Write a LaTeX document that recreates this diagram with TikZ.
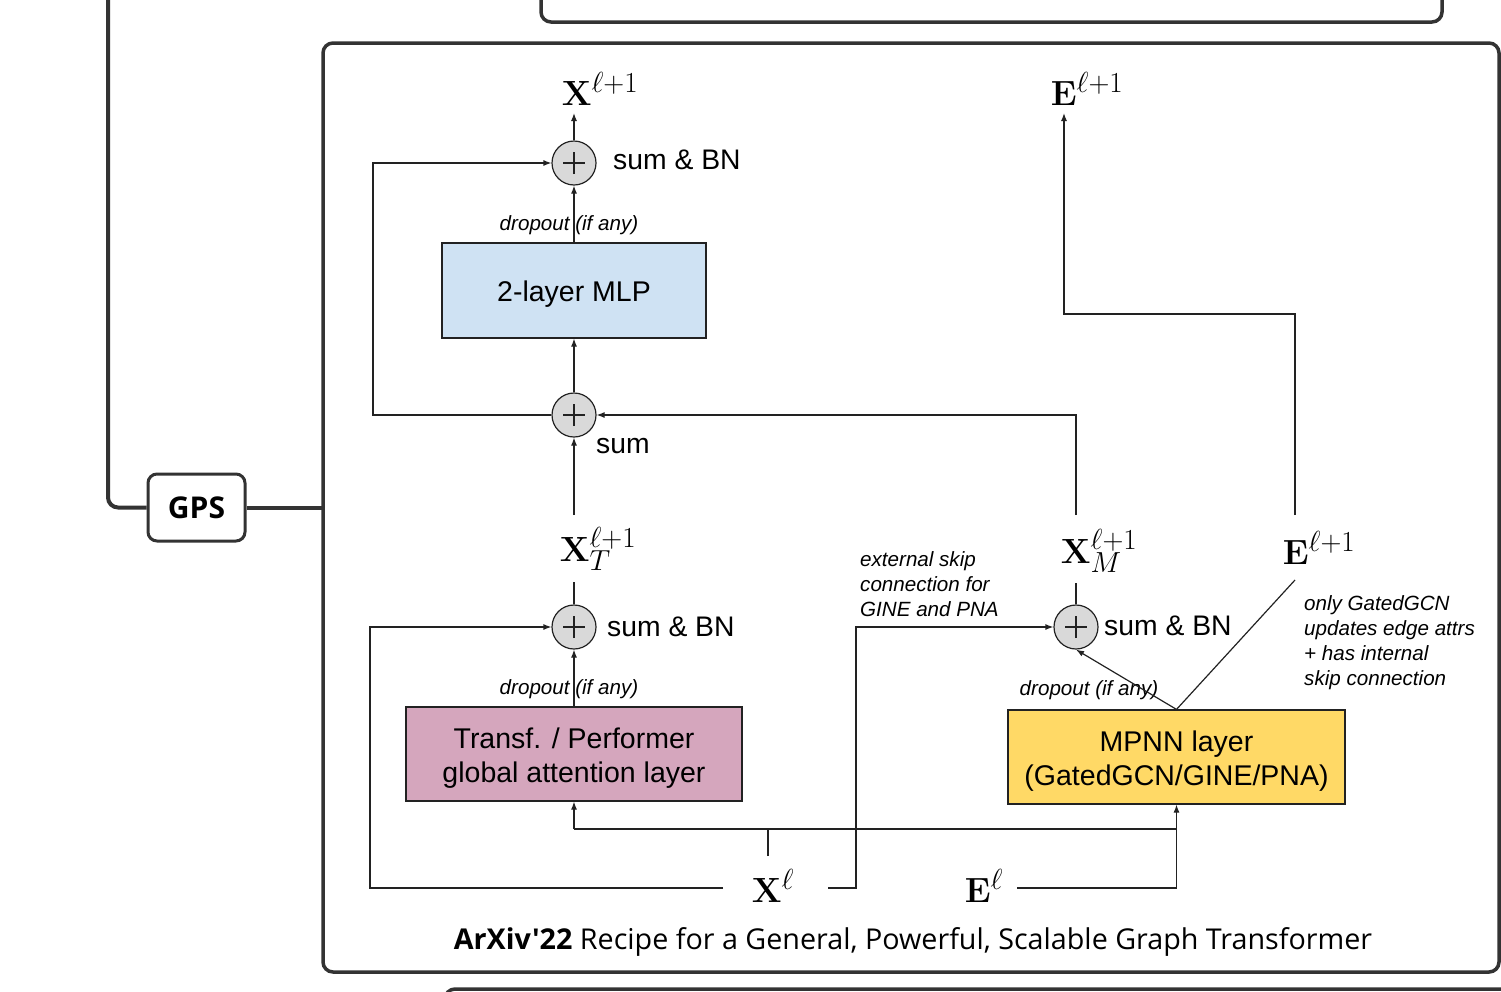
\RequirePackage{fix-cm}
\documentclass[tikz,border=0pt]{standalone}
\usepackage[no-math]{fontspec}
\setmainfont{Liberation Sans}
\newfontfamily\mapfont{Open Sans}[Ligatures=TeXOff]
\usetikzlibrary{arrows.meta}
\DeclareMathSizes{35}{35}{29}{21}
\definecolor{framegray}{HTML}{333333}
\definecolor{linegray}{HTML}{222222}
\definecolor{plusgray}{HTML}{D9D9D9}
\definecolor{mlpblue}{HTML}{CFE2F3}
\definecolor{transpink}{HTML}{D5A6BD}
\definecolor{mpnnyellow}{HTML}{FFD966}
\newcommand{\boxtext}[1]{\raisebox{-4.5pt}[\height][\depth]{\begin{tabular}{@{}c@{}}#1\end{tabular}}}
\tikzset{
  ln/.style={draw=linegray, line width=1.2pt},
  arr/.style={ln, -{Latex[length=8pt,width=6pt]}},
  plusnode/.style={circle, draw=linegray, line width=1.2pt, fill=plusgray,
    minimum size=44pt, inner sep=0pt,
    path picture={\draw[linegray, line width=1.1pt]
      ([xshift=-11pt]path picture bounding box.center) -- ([xshift=11pt]path picture bounding box.center)
      ([yshift=-11pt]path picture bounding box.center) -- ([yshift=11pt]path picture bounding box.center);}},
  layerbox/.style={draw=linegray, line width=1.2pt, inner sep=0pt, align=center,
    font=\fontsize{28.5}{34}\selectfont},
  lbl/.style={font=\fontsize{28.3}{34}\selectfont, inner sep=0pt},
  note/.style={font=\itshape\fontsize{20.6}{25}\selectfont, inner sep=0pt, align=left},
  mathlbl/.style={font=\fontsize{35}{40}\selectfont, inner sep=0pt},
  frame/.style={draw=framegray, line width=3.5pt, rounded corners=10pt},
  mapline/.style={draw=framegray, line width=4pt, rounded corners=10pt},
}
\begin{document}
\begin{tikzpicture}[x=1pt, y=-1pt]
\useasboundingbox (0,0) rectangle (1501,991);

% mind-map frames
\draw[frame] (541,-30) rectangle (1442,22);
\draw[frame] (445,989) rectangle (1530,1100);
\draw[frame] (323,43) rectangle (1499,972);
\node[draw=framegray, line width=3pt, rounded corners=9pt, minimum width=97pt, minimum height=67pt,
  inner sep=0pt, font=\mapfont\bfseries\fontsize{30}{34}\selectfont] (gps) at (196.5,507.5) {GPS};
\coordinate (maptop) at (108,-10);
\draw[mapline] (maptop) |- (gps.west);
\draw[mapline] (gps.east) -- (323,507.5);

% boxes
\node[layerbox, fill=mlpblue, minimum width=264pt, minimum height=95pt] (mlp) at (574,290.5) {\boxtext{2-layer MLP}};
\node[layerbox, fill=transpink, minimum width=336pt, minimum height=94pt] (transf) at (574,754) {\boxtext{Transf. / Performer\\global attention layer}};
\node[layerbox, fill=mpnnyellow, minimum width=337pt, minimum height=94pt] (mpnn) at (1176.5,757) {\boxtext{MPNN layer\\(GatedGCN/GINE/PNA)}};

% sum nodes
\node[plusnode] (plusTop) at (574,163) {};
\node[plusnode] (plusMid) at (574,415) {};
\node[plusnode] (plusT) at (574,627) {};
\node[plusnode] (plusM) at (1076,627) {};

% labels
\node[lbl, anchor=west] (lTop) at (613,160) {sum \& BN};
\node[lbl, anchor=west] (lMid) at (596,446) {sum};
\node[lbl, anchor=west] (lT) at (607,627) {sum \& BN};
\node[lbl, anchor=west] (lM) at (1104,626) {sum \& BN};
\node[note] (dTop) at (569,225) {dropout (if any)};
\node[note] (dT) at (569,689) {dropout (if any)};
\node[note] (dM) at (1089,690) {dropout (if any)};
\node[note, anchor=north west] (ext) at (860,551) {external skip\\connection for\\GINE and PNA};
\node[note, anchor=north west] (only) at (1304,595) {only GatedGCN\\updates edge attrs\\+ has internal\\skip connection};

% math labels
\node[mathlbl] (xout) at (600,89) {$\mathbf{X}^{\ell+1}$};
\node[mathlbl] (eout) at (1087,89) {$\mathbf{E}^{\ell+1}$};
\node[mathlbl] (xt) at (598,549) {$\mathbf{X}_T^{\ell+1}$};
\node[mathlbl] (xm) at (1099,551) {$\mathbf{X}_M^{\ell+1}$};
\node[mathlbl] (em) at (1319,548) {$\mathbf{E}^{\ell+1}$};
\node[mathlbl] (xin) at (773,886) {$\mathbf{X}^{\ell}$};
\node[mathlbl] (ein) at (984,886) {$\mathbf{E}^{\ell}$};

% free ends and corners
\coordinate (xoutB) at (574,113);
\coordinate (eoutB) at (1064,113);
\coordinate (xtT) at (574,515);
\coordinate (xtB) at (574,582);
\coordinate (xmT) at (1076,515);
\coordinate (xmB) at (1076,583);
\coordinate (emT) at (1295,515);
\coordinate (emB) at (1295,580);
\coordinate (xinT) at (768,856);
\coordinate (xinL) at (723,888);
\coordinate (xinR) at (828,888);
\coordinate (einR) at (1017,888);
\coordinate (cA) at (373,415);
\coordinate (cB) at (370,888);
\coordinate (cC) at (856,888);
\coordinate (cD) at (1295,314);
\coordinate (bus) at (768,829);

% upper half
\draw[arr] (plusTop.north) -- (xoutB);
\draw[arr] (mlp.north) -- (plusTop.south);
\draw[arr] (plusMid.north) -- (mlp.south);
\draw[arr] (plusMid.west) -- (cA) |- (plusTop.west);
\draw[arr] (xtT) -- (plusMid.south);
\draw[ln] (plusT.north) -- (xtB);
\draw[arr] (xmT) |- (plusMid.east);
\draw[ln] (plusM.north) -- (xmB);
\draw[arr] (emT) -- (cD) -| (eoutB);

% lower half
\draw[arr] (transf.north) -- (plusT.south);
\draw[arr] (xinL) -- (cB) |- (plusT.west);
\draw[arr] (xinR) -- (cC) |- (plusM.west);
\draw[ln] (xinT) -- (bus);
\draw[ln] (transf.south |- bus) -- (mpnn.south |- bus);
\draw[arr] (transf.south |- bus) -- (transf.south);
\draw[arr] (einR) -| (mpnn.south);
\draw[arr] (mpnn.north) -- (plusM.south);
\draw[ln] (mpnn.north) -- (emB);

% caption
\node[font=\mapfont\fontsize{28.7}{33}\selectfont, inner sep=0pt] (cap) at (913,942)
  {\textbf{ArXiv'22} Recipe for a General, Powerful, Scalable Graph Transformer};
\end{tikzpicture}
\end{document}
